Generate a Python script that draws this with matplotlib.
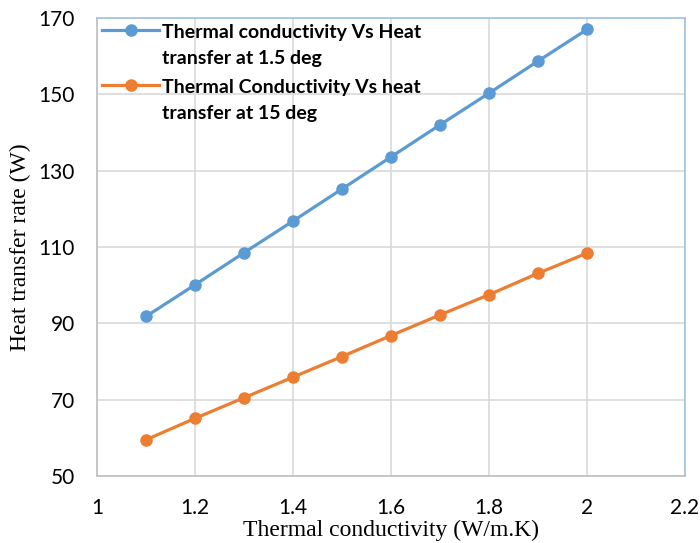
import matplotlib
matplotlib.use("Agg")
import matplotlib.pyplot as plt
from matplotlib.legend_handler import HandlerLine2D

k = [1.1, 1.2, 1.3, 1.4, 1.5, 1.6, 1.7, 1.8, 1.9, 2.0]
q_15 = [91.8, 100.1, 108.5, 116.8, 125.2, 133.6, 142.0, 150.3, 158.7, 167.0]
q_150 = [59.5, 65.1, 70.5, 75.9, 81.3, 86.8, 92.2, 97.5, 103.1, 108.4]
labels = ["Thermal conductivity Vs Heat\ntransfer at 1.5 deg",
          "Thermal Conductivity Vs heat\ntransfer at 15 deg"]
xticks = [1, 1.2, 1.4, 1.6, 1.8, 2, 2.2]
xticklabels = ["1", "1.2", "1.4", "1.6", "1.8", "2", "2.2"]
yticks = [50, 70, 90, 110, 130, 150, 170]


class TopHandler(HandlerLine2D):
    def __init__(self, dy, **kw):
        super().__init__(**kw)
        self.dy = dy

    def create_artists(self, legend, orig_handle, xdescent, ydescent, width, height, fontsize, trans):
        arts = super().create_artists(legend, orig_handle, xdescent, ydescent, width, height, fontsize, trans)
        for a in arts:
            a.set_ydata([y + self.dy for y in a.get_ydata()])
        return arts


fig = plt.figure(figsize=(7, 5.43), dpi=100)
ax = fig.add_axes([0.1386, 0.1234, 0.84, 0.8435])

l1, = ax.plot(k, q_15, color="#5B9BD5", lw=2.3, marker="o", ms=8, label=labels[0], zorder=3)
l2, = ax.plot(k, q_150, color="#ED7D31", lw=2.3, marker="o", ms=8, label=labels[1], zorder=3)

ax.set_xlim(1, 2.2)
ax.set_ylim(50, 170)
ax.set_xticks(xticks)
ax.set_xticklabels(xticklabels)
ax.set_yticks(yticks)
ax.grid(True, color="#D9D9D9", lw=1.2)
ax.set_axisbelow(True)
ax.tick_params(length=0, labelsize=15)
ax.tick_params(axis="x", pad=16)
ax.tick_params(axis="y", pad=16)
for t in ax.get_xticklabels() + ax.get_yticklabels():
    t.set_family("Lato")

for s in ["left", "bottom"]:
    ax.spines[s].set_color("#BFBFBF")
    ax.spines[s].set_linewidth(1.2)
for s in ["top", "right"]:
    ax.spines[s].set_color("#9DC3E6")
    ax.spines[s].set_linewidth(1.2)

ax.set_xlabel("Thermal conductivity (W/m.K)", family="Liberation Serif", fontsize=17, labelpad=1.5)
ax.set_ylabel("Heat transfer rate (W)", family="Liberation Serif", fontsize=17, labelpad=5)

leg = ax.legend(loc="upper left", frameon=False, prop={"family": "Lato", "weight": "bold", "size": 14},
                handlelength=2.9, handletextpad=0.15, borderaxespad=0.0, labelspacing=0.66,
                bbox_to_anchor=(-0.004, 1.0036),
                handler_map={l1: TopHandler(11.5), l2: TopHandler(11.5)})
for t in leg.get_texts():
    t.set_linespacing(1.6)

fig.savefig("out.png", dpi=100)
